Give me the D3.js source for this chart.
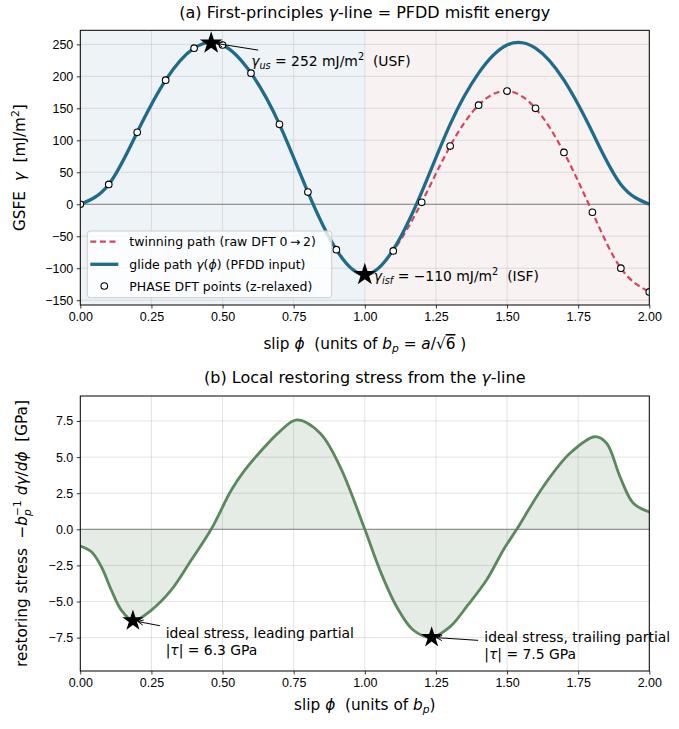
<!DOCTYPE html>
<html lang="en">
<head>
<meta charset="UTF-8">
<title>GSFE γ-line and restoring stress</title>
<script src="https://d3js.org/d3.v7.min.js"></script>
<style>
  body { margin: 0; background: #fff; }
  svg { display: block; font-family: "DejaVu Sans", sans-serif; }
  .tick text { font-size: 12.5px; fill: #000; }
  .tick line { stroke: #000; stroke-width: 0.8; }
  .grid line { stroke: #b0b0b0; stroke-opacity: 0.45; stroke-width: 0.8; }
</style>
</head>
<body>
<svg width="679" height="729"></svg>
<script>
// (a) PHASE DFT points along the twinning path 0 -> 2
const dftPhi   = [0, 0.1, 0.2, 0.3, 0.4, 0.5, 0.6, 0.7, 0.8, 0.9, 1.0, 1.1, 1.2, 1.3, 1.4, 1.5, 1.6, 1.7, 1.8, 1.9, 2.0];
const dftGamma = [0, 31, 112.5, 194, 244, 249, 205, 125, 19, -71, -110, -73, 3, 91, 155, 177, 150, 81, -12.5, -100, -137];

// (a) glide path gamma(phi) used as PFDD input
const glidePhi   = [0, 0.1, 0.2, 0.3, 0.4, 0.5, 0.6, 0.7, 0.8, 0.9, 1.0, 1.1, 1.2, 1.3, 1.4, 1.5, 1.6, 1.7, 1.8, 1.9, 2.0];
const glideGamma = [0, 31, 112.5, 194, 244, 249, 205, 125, 19, -71, -110, -71, 19, 125, 205, 249, 244, 194, 112.5, 31, 0];

// (a) marked extrema
const usf = [0.46, 252];
const isf = [1.0, -110];

// (b) restoring stress -b_p^-1 dγ/dφ [GPa]
const stressPhi = [0, 0.039, 0.074, 0.109, 0.144, 0.185, 0.25, 0.32, 0.39, 0.46, 0.531, 0.578, 0.65, 0.70, 0.761, 0.843, 0.913, 1.0,
                   1.053, 1.112, 1.17, 1.235, 1.30, 1.36, 1.428, 1.487, 1.534, 1.627, 1.721, 1.809, 1.85, 1.897, 1.944, 2.0];
const stressVal = [-1.16, -1.55, -2.59, -4.2, -5.59, -6.33, -5.59, -4.2, -2.13, 0, 2.72, 4.1, 5.75, 6.75, 7.57, 6.65, 4.34, 0,
                   -2.82, -5.36, -6.97, -7.48, -6.74, -5.3, -3.51, -1.43, 0, 2.95, 5.26, 6.41, 5.96, 3.64, 1.8, 1.2];
const leading  = [0.185, -6.33];
const trailing = [1.235, -7.48];

// ticks
const xTicks  = [0, 0.25, 0.5, 0.75, 1.0, 1.25, 1.5, 1.75, 2.0];
const yTicksA = [-150, -100, -50, 0, 50, 100, 150, 200, 250];
const yTicksB = [-7.5, -5, -2.5, 0, 2.5, 5, 7.5];

const svg = d3.select("svg");
const left = 80.3, right = 649.3;
const topA = 30.3, botA = 305, topB = 396, botB = 671;

const x  = d3.scaleLinear().domain([0, 2]).range([left, right]);
const yA = d3.scaleLinear().domain([-157.5, 272]).range([botA, topA]);
const yB = d3.scaleLinear().domain([-9.81, 9.23]).range([botB, topB]);

const blue = "#1f6b8a", red = "#d6455e", green = "#5a8a5c";

// text with italic / sub / sup pieces
function rich(sel, fs, parts) {
  let shift = 0;
  parts.forEach(p => {
    const [str, kind = "", dx = 0] = typeof p === "string" ? [p] : p;
    const t = sel.append("tspan").text(str);
    let target = 0;
    if (kind.includes("sub")) target = 0.22;
    if (kind.includes("sup")) target = -0.42;
    if (kind.includes("i")) t.attr("font-style", "italic");
    if (target !== 0) t.attr("font-size", fs * 0.7);
    if (target !== shift) t.attr("dy", (target - shift) * fs);
    if (dx) t.attr("dx", dx);
    shift = target;
  });
  return sel;
}

function arrow(g, x0, y0, x1, y1) {
  g.append("line").attr("x1", x0).attr("y1", y0).attr("x2", x1).attr("y2", y1)
    .attr("stroke", "#000").attr("stroke-width", 1);
  const a = Math.atan2(y1 - y0, x1 - x0);
  [-0.45, 0.45].forEach(da => {
    g.append("line").attr("x1", x1).attr("y1", y1)
      .attr("x2", x1 - 6 * Math.cos(a + da)).attr("y2", y1 - 6 * Math.sin(a + da))
      .attr("stroke", "#000").attr("stroke-width", 1);
  });
}

const defs = svg.append("defs");
defs.append("clipPath").attr("id", "clipA").append("rect")
  .attr("x", left).attr("y", topA).attr("width", right - left).attr("height", botA - topA);
defs.append("clipPath").attr("id", "clipB").append("rect")
  .attr("x", left).attr("y", topB).attr("width", right - left).attr("height", botB - topB);

// ---------- panel (a) ----------
const gA = svg.append("g");
gA.append("rect").attr("x", x(0)).attr("y", topA).attr("width", x(1) - x(0)).attr("height", botA - topA).attr("fill", "#eef3f7");
gA.append("rect").attr("x", x(1)).attr("y", topA).attr("width", x(2) - x(1)).attr("height", botA - topA).attr("fill", "#f9f2f2");

const gridA = gA.append("g").attr("class", "grid");
gridA.selectAll(".v").data(xTicks).join("line").attr("class", "v")
  .attr("x1", d => x(d)).attr("x2", d => x(d)).attr("y1", topA).attr("y2", botA);
gridA.selectAll(".h").data(yTicksA).join("line").attr("class", "h")
  .attr("x1", left).attr("x2", right).attr("y1", d => yA(d)).attr("y2", d => yA(d));

gA.append("line").attr("x1", left).attr("x2", right).attr("y1", yA(0)).attr("y2", yA(0))
  .attr("stroke", "#808080").attr("stroke-width", 1);

const plotA = gA.append("g").attr("clip-path", "url(#clipA)");
const twin = dftPhi.map((p, i) => [p, dftGamma[i]]);
const glide = glidePhi.map((p, i) => [p, glideGamma[i]]);
const lineA = d3.line().x(d => x(d[0])).y(d => yA(d[1])).curve(d3.curveNatural);

plotA.append("path").attr("d", lineA(twin)).attr("fill", "none")
  .attr("stroke", red).attr("stroke-width", 2.2).attr("stroke-dasharray", "6,3.6");
plotA.append("path").attr("d", lineA(glide)).attr("fill", "none")
  .attr("stroke", blue).attr("stroke-width", 3.3);
plotA.selectAll("circle").data(twin).join("circle")
  .attr("cx", d => x(d[0])).attr("cy", d => yA(d[1])).attr("r", 3.3)
  .attr("fill", "#fff").attr("stroke", "#000").attr("stroke-width", 1.1);

const star = d3.symbol(d3.symbolStar, 160);
[usf, isf].forEach(p => {
  plotA.append("path").attr("d", star()).attr("transform", `translate(${x(p[0])},${yA(p[1])})`).attr("fill", "#000");
});

// annotations (a)
arrow(gA, x(usf[0]) + 47, yA(usf[1]) + 7, x(usf[0]) + 6, yA(usf[1]) + 0.5);
rich(gA.append("text").attr("x", x(usf[0]) + 40).attr("y", yA(usf[1]) + 23).attr("font-size", 13.9),
  13.9, [["γ", "i"], ["us", "isub"], " = 252 mJ/m", ["2", "sup"], "\u00a0 (USF)"]);
rich(gA.append("text").attr("x", x(isf[0]) + 9).attr("y", yA(isf[1]) + 6).attr("font-size", 13.9),
  13.9, [["γ", "i"], ["isf", "isub"], " = −110 mJ/m", ["2", "sup"], "\u00a0 (ISF)"]);

// legend
const lg = gA.append("g").attr("transform", "translate(87.3,231)");
lg.append("rect").attr("width", 244.4).attr("height", 66.7).attr("rx", 3)
  .attr("fill", "#fff").attr("fill-opacity", 0.8).attr("stroke", "#ccc").attr("stroke-width", 1);
lg.append("line").attr("x1", 3).attr("x2", 31).attr("y1", 10.7).attr("y2", 10.7)
  .attr("stroke", red).attr("stroke-width", 2.2).attr("stroke-dasharray", "6,3.6");
lg.append("line").attr("x1", 3).attr("x2", 31).attr("y1", 33.3).attr("y2", 33.3)
  .attr("stroke", blue).attr("stroke-width", 3.3);
lg.append("circle").attr("cx", 17).attr("cy", 55).attr("r", 3.3)
  .attr("fill", "#fff").attr("stroke", "#000").attr("stroke-width", 1.1);
rich(lg.append("text").attr("x", 42).attr("y", 15.2).attr("font-size", 12.5), 12.5,
  ["twinning path (raw DFT 0\u2009→\u20092)"]);
rich(lg.append("text").attr("x", 42).attr("y", 37.8).attr("font-size", 12.5), 12.5,
  ["glide path ", ["γ", "i"], "(", ["ϕ", "i"], ") (PFDD input)"]);
rich(lg.append("text").attr("x", 42).attr("y", 59.5).attr("font-size", 12.5), 12.5,
  ["PHASE DFT points (z-relaxed)"]);

// axes (a)
gA.append("g").attr("transform", `translate(0,${botA})`)
  .call(d3.axisBottom(x).tickValues(xTicks).tickFormat(d3.format(".2f")).tickSize(3.5).tickPadding(3.5))
  .call(g => g.select(".domain").remove());
gA.append("g").attr("transform", `translate(${left},0)`)
  .call(d3.axisLeft(yA).tickValues(yTicksA).tickFormat(d3.format("d")).tickSize(3.5).tickPadding(3.5))
  .call(g => g.select(".domain").remove());
gA.append("rect").attr("x", left).attr("y", topA).attr("width", right - left).attr("height", botA - topA)
  .attr("fill", "none").attr("stroke", "#000").attr("stroke-width", 1);

rich(svg.append("text").attr("x", (left + right) / 2).attr("y", 17.5).attr("text-anchor", "middle").attr("font-size", 16),
  16, ["(a) First-principles ", ["γ", "i"], "-line = PFDD misfit energy"]);

const xl = svg.append("text").attr("x", (left + right) / 2).attr("y", 349).attr("text-anchor", "middle").attr("font-size", 15.3);
rich(xl, 15.3, ["slip ", ["ϕ", "i"], "\u00a0 (units of ", ["b", "i"], ["p", "isub"], " = ", ["a", "i"], "/√"]);
xl.append("tspan").text("6").attr("text-decoration", "overline");
xl.append("tspan").text("\u00a0)");

rich(svg.append("text").attr("transform", `translate(20,${(topA + botA) / 2}) rotate(-90)`)
  .attr("text-anchor", "middle").attr("dy", "0.35em").attr("font-size", 15.3),
  15.3, ["GSFE\u00a0 ", ["γ", "i"], "\u00a0 [mJ/m", ["2", "sup"], "]"]);

// ---------- panel (b) ----------
const gB = svg.append("g");
const gridB = gB.append("g").attr("class", "grid");
gridB.selectAll(".v").data(xTicks).join("line").attr("class", "v")
  .attr("x1", d => x(d)).attr("x2", d => x(d)).attr("y1", topB).attr("y2", botB);
gridB.selectAll(".h").data(yTicksB).join("line").attr("class", "h")
  .attr("x1", left).attr("x2", right).attr("y1", d => yB(d)).attr("y2", d => yB(d));

const stress = stressPhi.map((p, i) => [p, stressVal[i]]);
const curveB = d3.curveCatmullRom.alpha(0.5);
const plotB = gB.append("g").attr("clip-path", "url(#clipB)");
plotB.append("path")
  .attr("d", d3.area().x(d => x(d[0])).y0(yB(0)).y1(d => yB(d[1])).curve(curveB)(stress))
  .attr("fill", green).attr("fill-opacity", 0.16);
plotB.append("line").attr("x1", left).attr("x2", right).attr("y1", yB(0)).attr("y2", yB(0))
  .attr("stroke", "#808080").attr("stroke-width", 1);
plotB.append("path")
  .attr("d", d3.line().x(d => x(d[0])).y(d => yB(d[1])).curve(curveB)(stress))
  .attr("fill", "none").attr("stroke", green).attr("stroke-width", 2.8);
[leading, trailing].forEach(p => {
  plotB.append("path").attr("d", d3.symbol(d3.symbolStar, 140)()).attr("transform", `translate(${x(p[0])},${yB(p[1])})`).attr("fill", "#000");
});

// annotations (b)
arrow(gB, x(leading[0]) + 27, yB(leading[1]) + 5, x(leading[0]) + 5, yB(leading[1]) + 0.8);
gB.append("text").attr("x", x(0.30)).attr("y", yB(leading[1]) + 17.5).attr("font-size", 13.9)
  .text("ideal stress, leading partial");
rich(gB.append("text").attr("x", x(0.30)).attr("y", yB(leading[1]) + 34).attr("font-size", 13.9), 13.9,
  ["|", ["τ", "i"], "| = 6.3 GPa"]);

arrow(gB, x(trailing[0]) + 46.5, yB(trailing[1]) + 3, x(trailing[0]) + 5, yB(trailing[1]) + 0.3);
gB.append("text").attr("x", x(1.42)).attr("y", yB(trailing[1]) + 5).attr("font-size", 13.9)
  .text("ideal stress, trailing partial");
rich(gB.append("text").attr("x", x(1.42)).attr("y", yB(trailing[1]) + 21.5).attr("font-size", 13.9), 13.9,
  ["|", ["τ", "i"], "| = 7.5 GPa"]);

// axes (b)
gB.append("g").attr("transform", `translate(0,${botB})`)
  .call(d3.axisBottom(x).tickValues(xTicks).tickFormat(d3.format(".2f")).tickSize(3.5).tickPadding(3.5))
  .call(g => g.select(".domain").remove());
gB.append("g").attr("transform", `translate(${left},0)`)
  .call(d3.axisLeft(yB).tickValues(yTicksB).tickFormat(d3.format(".1f")).tickSize(3.5).tickPadding(3.5))
  .call(g => g.select(".domain").remove());
gB.append("rect").attr("x", left).attr("y", topB).attr("width", right - left).attr("height", botB - topB)
  .attr("fill", "none").attr("stroke", "#000").attr("stroke-width", 1);

rich(svg.append("text").attr("x", (left + right) / 2).attr("y", 383).attr("text-anchor", "middle").attr("font-size", 16),
  16, ["(b) Local restoring stress from the ", ["γ", "i"], "-line"]);

rich(svg.append("text").attr("x", (left + right) / 2).attr("y", 709.5).attr("text-anchor", "middle").attr("font-size", 15.3),
  15.3, ["slip ", ["ϕ", "i"], "\u00a0 (units of ", ["b", "i"], ["p", "isub"], ")"]);

rich(svg.append("text").attr("transform", `translate(22,${(topB + botB) / 2}) rotate(-90)`)
  .attr("text-anchor", "middle").attr("dy", "0.35em").attr("font-size", 15.3),
  15.3, ["restoring stress\u00a0 −", ["b", "i"], ["p", "isub"], ["−1", "sup", -6.8], " ", ["dγ", "i"], "/", ["dϕ", "i"], "\u00a0 [GPa]"]);
</script>
</body>
</html>
